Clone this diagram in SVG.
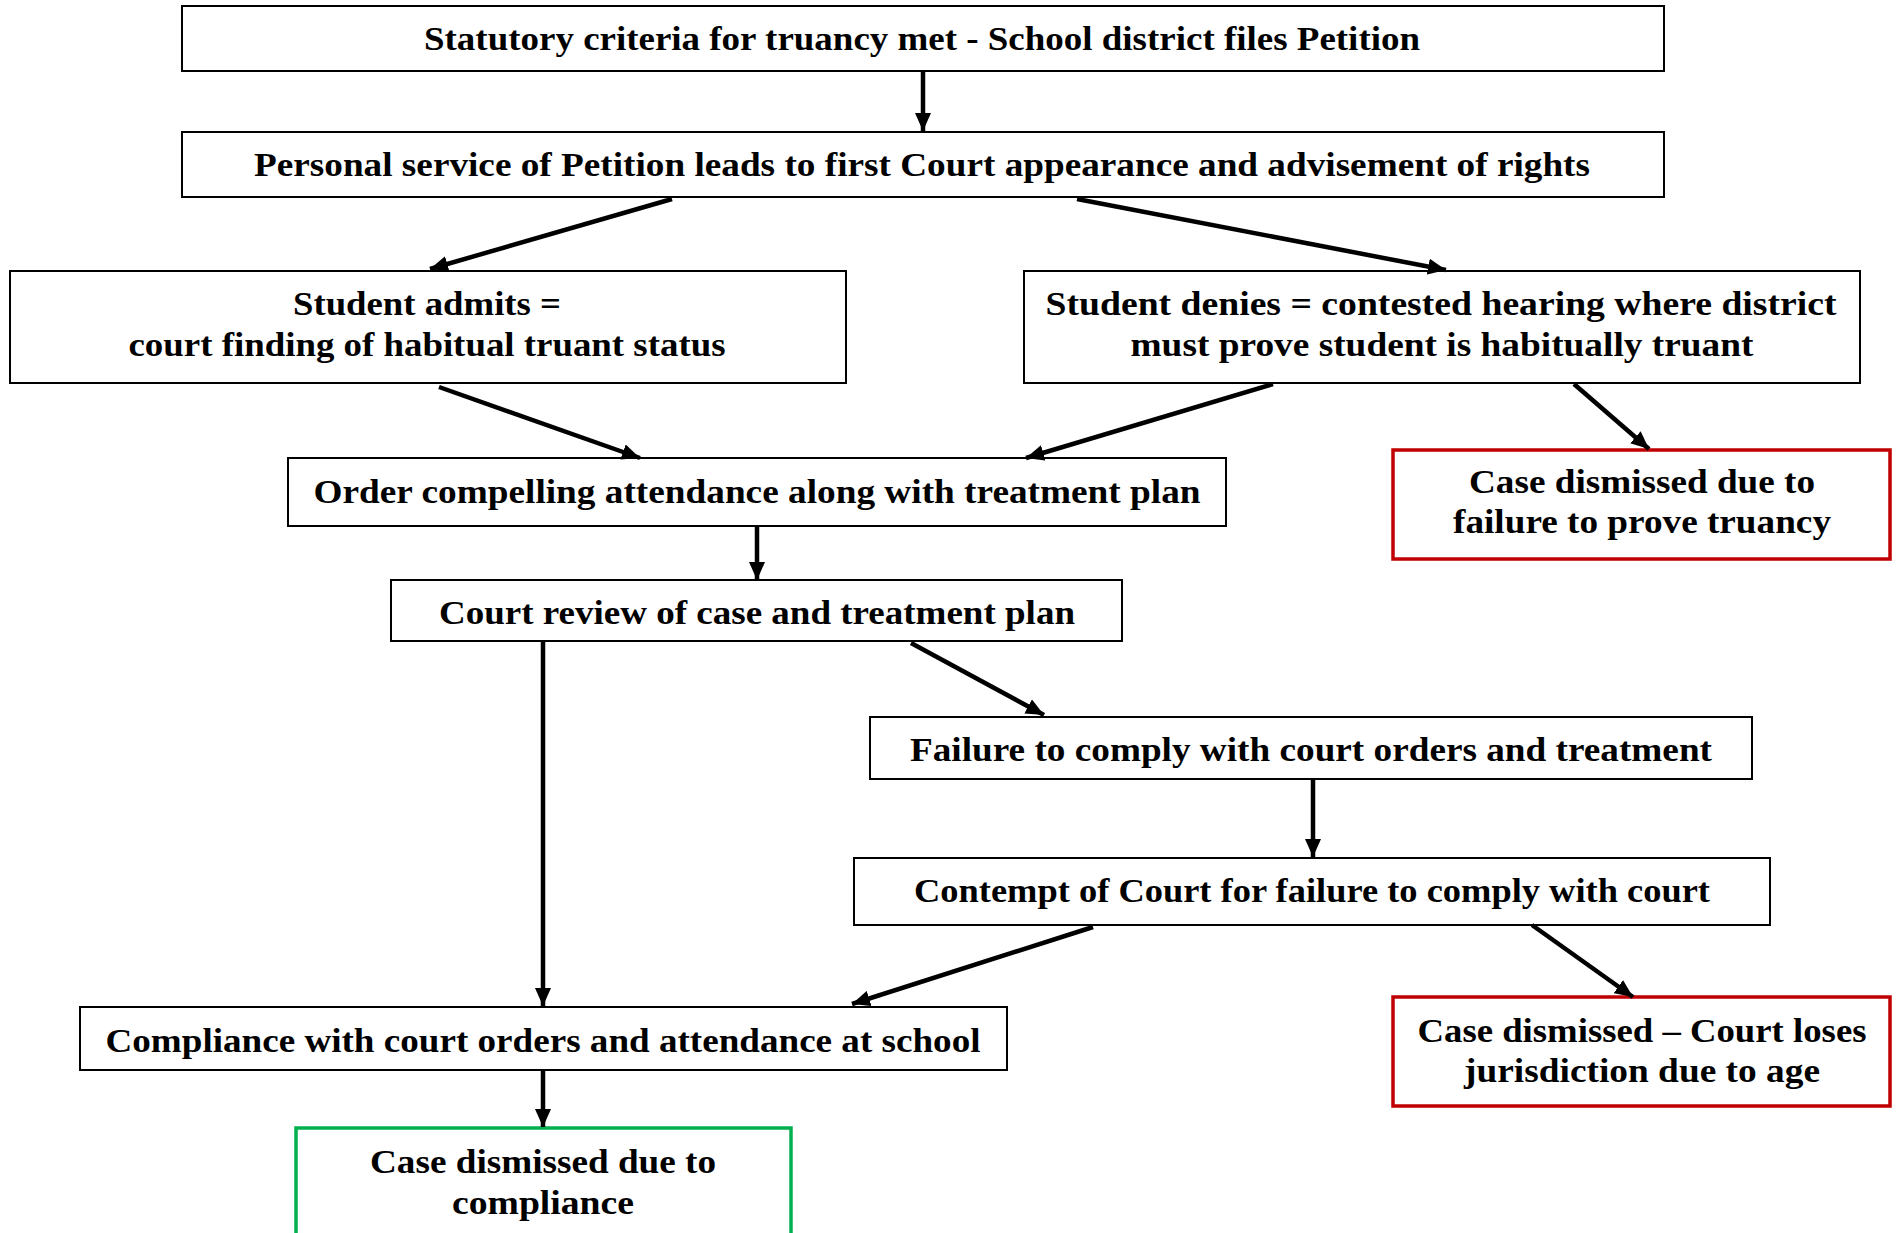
<svg xmlns="http://www.w3.org/2000/svg" width="1900" height="1233" viewBox="0 0 1900 1233">
<style>
.box{fill:#fff;stroke:#000;stroke-width:2}
.red{fill:#fff;stroke:#C00000;stroke-width:3.5}
.green{fill:#fff;stroke:#00B050;stroke-width:3.5}
text{font-family:"Liberation Serif","DejaVu Serif",serif;font-weight:bold;font-size:33px;fill:#000;text-anchor:middle}
.conn line{stroke:#000;stroke-width:4.5}
</style>
<defs>
<marker id="ah" markerUnits="userSpaceOnUse" markerWidth="20" markerHeight="16" viewBox="0 0 20 16" refX="18" refY="8" orient="auto">
<path d="M0,0 L18,8 L0,16 Z" fill="#000"/>
</marker>
</defs>
<rect width="1900" height="1233" fill="#fff"/>
<g id="n1"><rect class="box" x="182" y="6" width="1482" height="65"/><text x="922" y="50" textLength="996" lengthAdjust="spacingAndGlyphs">Statutory criteria for truancy met - School district files Petition</text></g>
<g id="n2"><rect class="box" x="182" y="132" width="1482" height="65"/><text x="922" y="176" textLength="1336" lengthAdjust="spacingAndGlyphs">Personal service of Petition leads to first Court appearance and advisement of rights</text></g>
<g id="n3"><rect class="box" x="10" y="271" width="836" height="112"/><text x="427" y="315" textLength="268" lengthAdjust="spacingAndGlyphs">Student admits =</text><text x="427" y="356" textLength="597" lengthAdjust="spacingAndGlyphs">court finding of habitual truant status</text></g>
<g id="n4"><rect class="box" x="1024" y="271" width="836" height="112"/><text x="1441" y="315" textLength="791" lengthAdjust="spacingAndGlyphs">Student denies = contested hearing where district</text><text x="1442" y="356" textLength="623" lengthAdjust="spacingAndGlyphs">must prove student is habitually truant</text></g>
<g id="n5"><rect class="box" x="288" y="458" width="938" height="68"/><text x="757" y="503" textLength="887" lengthAdjust="spacingAndGlyphs">Order compelling attendance along with treatment plan</text></g>
<g id="n6"><rect class="red" x="1393" y="450" width="497" height="109"/><text x="1642" y="493" textLength="346" lengthAdjust="spacingAndGlyphs">Case dismissed due to</text><text x="1642" y="533" textLength="378" lengthAdjust="spacingAndGlyphs">failure to prove truancy</text></g>
<g id="n7"><rect class="box" x="391" y="580" width="731" height="61"/><text x="757" y="624" textLength="636" lengthAdjust="spacingAndGlyphs">Court review of case and treatment plan</text></g>
<g id="n8"><rect class="box" x="870" y="717" width="882" height="62"/><text x="1311" y="761" textLength="802" lengthAdjust="spacingAndGlyphs">Failure to comply with court orders and treatment</text></g>
<g id="n9"><rect class="box" x="854" y="858" width="916" height="67"/><text x="1312" y="902" textLength="796" lengthAdjust="spacingAndGlyphs">Contempt of Court for failure to comply with court</text></g>
<g id="n10"><rect class="box" x="80" y="1007" width="927" height="63"/><text x="543" y="1052" textLength="875" lengthAdjust="spacingAndGlyphs">Compliance with court orders and attendance at school</text></g>
<g id="n11"><rect class="red" x="1393" y="997" width="497" height="109"/><text x="1642" y="1042" textLength="449" lengthAdjust="spacingAndGlyphs">Case dismissed – Court loses</text><text x="1642" y="1082" textLength="356" lengthAdjust="spacingAndGlyphs">jurisdiction due to age</text></g>
<g id="n12"><rect class="green" x="296" y="1128" width="495" height="120"/><text x="543" y="1173" textLength="346" lengthAdjust="spacingAndGlyphs">Case dismissed due to</text><text x="543" y="1214" textLength="182" lengthAdjust="spacingAndGlyphs">compliance</text></g>
<g id="connectors" class="conn">
<line x1="923" y1="71" x2="923" y2="131" marker-end="url(#ah)"/>
<line x1="672" y1="199" x2="430" y2="269" marker-end="url(#ah)"/>
<line x1="1077" y1="199" x2="1446" y2="270" marker-end="url(#ah)"/>
<line x1="439" y1="387" x2="640" y2="458" marker-end="url(#ah)"/>
<line x1="1273" y1="384" x2="1026" y2="458" marker-end="url(#ah)"/>
<line x1="1574" y1="384" x2="1649" y2="449" marker-end="url(#ah)"/>
<line x1="757" y1="526" x2="757" y2="580" marker-end="url(#ah)"/>
<line x1="911" y1="643" x2="1044" y2="715" marker-end="url(#ah)"/>
<line x1="543" y1="641" x2="543" y2="1006" marker-end="url(#ah)"/>
<line x1="1313" y1="779" x2="1313" y2="857" marker-end="url(#ah)"/>
<line x1="1093" y1="927" x2="852" y2="1004" marker-end="url(#ah)"/>
<line x1="1532" y1="925" x2="1633" y2="997" marker-end="url(#ah)"/>
<line x1="543" y1="1070" x2="543" y2="1127" marker-end="url(#ah)"/>
</g>
</svg>
